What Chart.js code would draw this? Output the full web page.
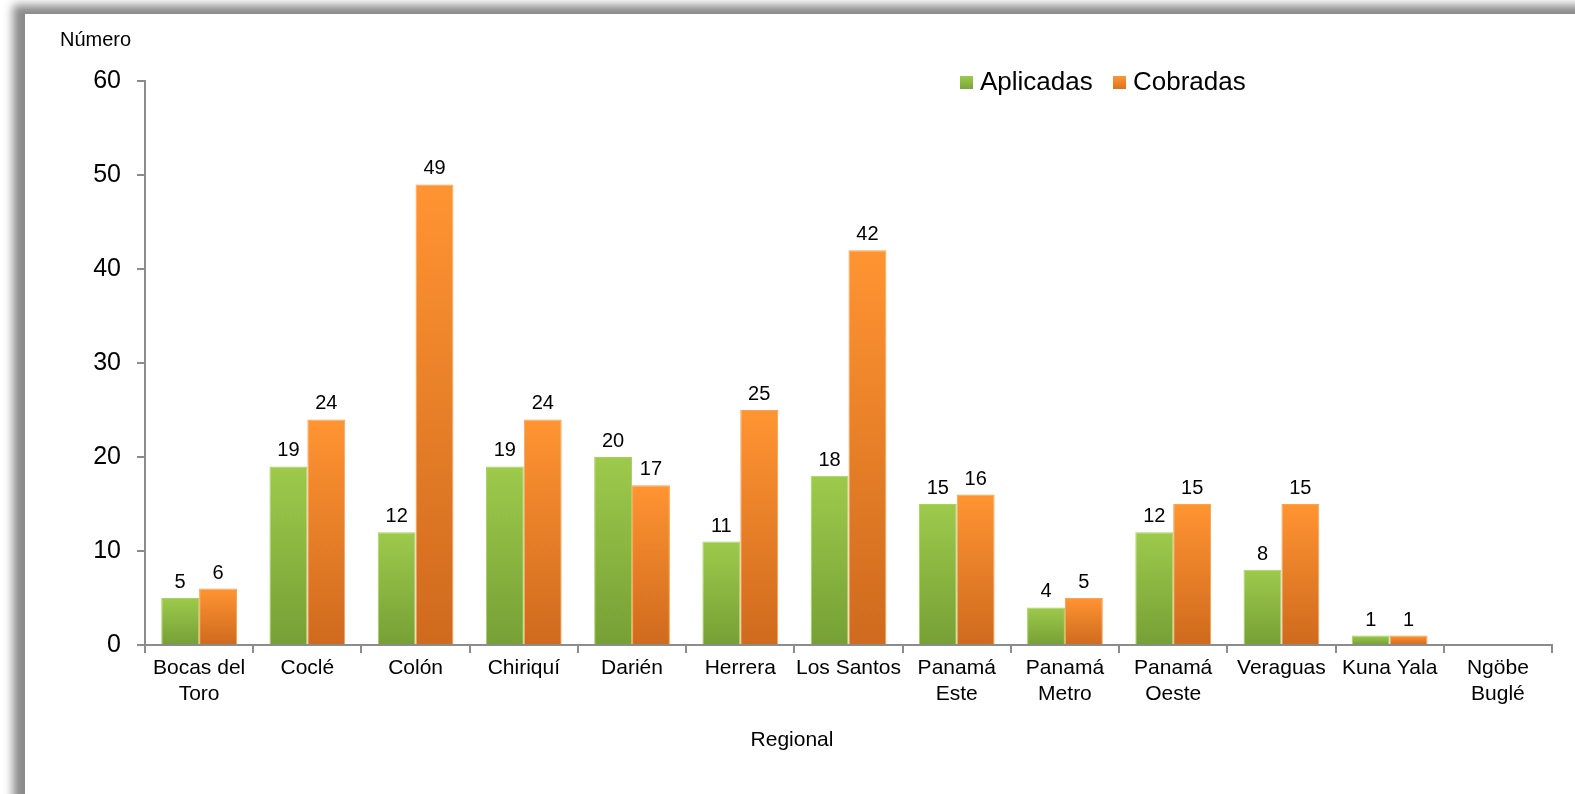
<!DOCTYPE html>
<html lang="es">
<head>
<meta charset="UTF-8">
<script src="https://cdn.jsdelivr.net/npm/chart.js"></script>
<style>
body{
    margin:0;
    background:#fff;
    width:1575px;
    height:794px;
    overflow:hidden;
    font-family:"Liberation Sans", Arial, sans-serif;
}
.frame{
    position:absolute;
    left:25px;
    top:14px;
    width:1600px;
    height:820px;
    background:#fff;
    box-shadow:-8px -5px 9px 4px #8a8a8a;
}
.wrap{
    position:absolute;
    left:0;
    top:0;
    width:1575px;
    height:794px;
}
</style>
</head>
<body>
<div class="frame"></div>
<div class="wrap"><canvas id="grafico" width="1575" height="794"></canvas></div>
<script>
// datos
const regionales = [["Bocas del","Toro"],"Coclé","Colón","Chiriquí","Darién","Herrera","Los Santos",["Panamá","Este"],["Panamá","Metro"],["Panamá","Oeste"],"Veraguas","Kuna Yala",["Ngöbe","Buglé"]];
const aplicadas = [5,19,12,19,20,11,18,15,4,12,8,1,null];
const cobradas  = [6,24,49,24,17,25,42,16,5,15,15,1,null];
const ticksY = [0,10,20,30,40,50,60];

const fuente = "'Liberation Sans', Arial, sans-serif";

function degradado(top, bottom){
    return function(c){
        const chart = c.chart;
        const area = chart.chartArea;
        if(!area || c.parsed == null || c.parsed.y == null) return top;
        const y = chart.scales.y;
        const y0 = y.getPixelForValue(c.parsed.y);
        const y1 = y.getPixelForValue(0);
        if(y1 - y0 < 1) return top;
        const g = chart.ctx.createLinearGradient(0, y0, 0, y1);
        g.addColorStop(0, top);
        g.addColorStop(1, bottom);
        return g;
    };
}

const extras = {
    id: 'extras',
    afterDatasetsDraw(chart){
        const ctx = chart.ctx;
        ctx.save();
        ctx.fillStyle = '#000';
        ctx.font = "20px " + fuente;
        ctx.textAlign = 'center';
        ctx.textBaseline = 'alphabetic';
        chart.data.datasets.forEach(function(ds, i){
            const meta = chart.getDatasetMeta(i);
            meta.data.forEach(function(bar, j){
                if(ds.data[j] == null) return;
                ctx.fillText(ds.data[j], bar.x, bar.y - 10);
            });
        });
        // leyenda
        ctx.font = "26px " + fuente;
        ctx.textAlign = 'left';
        ctx.textBaseline = 'middle';
        const items = [
            {t:'Aplicadas', c1:'#9dca4c', c2:'#7aa53a', x:960},
            {t:'Cobradas',  c1:'#ff9535', c2:'#d9731f', x:1113}
        ];
        items.forEach(function(it){
            const g = ctx.createLinearGradient(0, 76, 0, 89);
            g.addColorStop(0, it.c1);
            g.addColorStop(1, it.c2);
            ctx.fillStyle = g;
            ctx.fillRect(it.x, 76, 13, 13);
            ctx.fillStyle = '#000';
            ctx.fillText(it.t, it.x + 20, 83);
        });
        // titulos de ejes
        ctx.font = "20px " + fuente;
        ctx.textBaseline = 'alphabetic';
        ctx.fillText('Número', 60, 46);
        ctx.font = "21px " + fuente;
        ctx.textAlign = 'center';
        ctx.fillText('Regional', 792, 746);
        ctx.restore();
    }
};

new Chart(document.getElementById('grafico'), {
    type: 'bar',
    data: {
        labels: regionales,
        datasets: [
            {
                label: 'Aplicadas',
                data: aplicadas,
                backgroundColor: degradado('#9dca4c', '#76a035'),
                borderColor: '#a6d15a',
                borderWidth: 1,
                categoryPercentage: 0.7,
                barPercentage: 1.0
            },
            {
                label: 'Cobradas',
                data: cobradas,
                backgroundColor: degradado('#ff9432', '#cf6a1e'),
                borderColor: '#f9a250',
                borderWidth: 1,
                categoryPercentage: 0.7,
                barPercentage: 1.0
            }
        ]
    },
    options: {
        responsive: false,
        animation: false,
        devicePixelRatio: 1,
        layout: { padding: { left: 0, top: 81, right: 23, bottom: 0 } },
        plugins: {
            legend: { display: false },
            tooltip: { enabled: false }
        },
        scales: {
            x: {
                grid: { display: true, drawOnChartArea: false, offset: true, tickLength: 8, color: '#8c8c8c', lineWidth: 2 },
                border: { color: '#8c8c8c', width: 2 },
                ticks: { color: '#000', font: { size: 21, family: fuente, lineHeight: 1.2 }, padding: 3, maxRotation: 0, autoSkip: false },
                afterFit(s){ s.height = 149; }
            },
            y: {
                min: 0,
                max: 60,
                afterBuildTicks(s){ s.ticks = ticksY.map(v => ({value: v})); },
                grid: { display: true, drawOnChartArea: false, tickLength: 8, color: '#8c8c8c', lineWidth: 2 },
                border: { color: '#8c8c8c', width: 2 },
                ticks: { color: '#000', font: { size: 25, family: fuente }, padding: 16 },
                afterFit(s){ s.width = 145; }
            }
        }
    },
    plugins: [extras]
});
</script>
</body>
</html>
